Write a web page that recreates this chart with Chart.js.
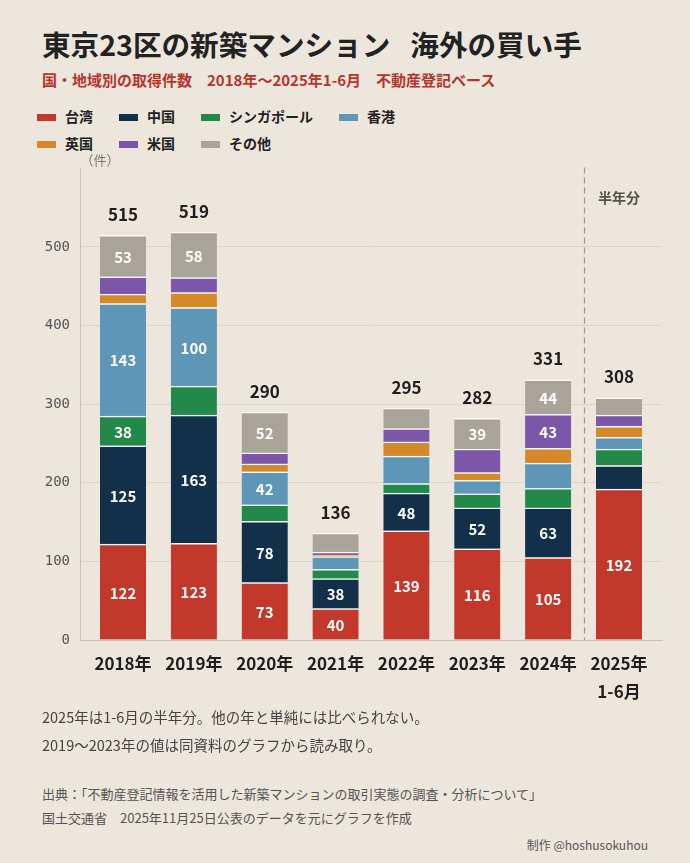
<!DOCTYPE html>
<html lang="ja">
<head>
<meta charset="utf-8">
<title>東京23区の新築マンション 海外の買い手</title>
<script src="https://cdn.jsdelivr.net/npm/chart.js@4.4.1/dist/chart.umd.min.js"></script>
<style>
    body { margin: 0; background: #ece6dc; }
    #page {
        position: relative; width: 690px; height: 863px; overflow: hidden;
        font-family: "Noto Sans CJK JP", sans-serif; color: #222;
    }
    .txt { position: absolute; margin: 0; white-space: nowrap; }
    #title { left: 42px; top: 26px; font-size: 28.6px; line-height: 36px; font-weight: 700; }
    #title .gap { display: inline-block; width: 20px; }
    #subtitle { left: 42px; top: 70px; font-size: 15px; line-height: 20px; font-weight: 700; color: #b5342b; }
    #legend {
        position: absolute; left: 37px; top: 102px;
        display: grid; grid-template-columns: auto auto auto auto; column-gap: 26px;
        grid-auto-rows: 27px; align-items: center;
        font-size: 14px; font-weight: 700;
    }
    #legend span.sw { display: inline-block; width: 19px; height: 7px; margin-right: 9px; vertical-align: middle; }
    #chartBox { position: absolute; left: 0; top: 150px; width: 690px; height: 560px; }
    #notes { left: 42px; top: 703px; font-size: 14.5px; line-height: 28px; color: #444; }
    #source { left: 42px; top: 782px; font-size: 13px; line-height: 24px; color: #555; }
    #credit { right: 42px; top: 835px; font-size: 12px; line-height: 20px; color: #555; }
</style>
</head>
<body>
<div id="page">
    <h1 class="txt" id="title">東京23区の新築マンション<span class="gap"></span>海外の買い手</h1>
    <div class="txt" id="subtitle">国・地域別の取得件数　2018年〜2025年1-6月　不動産登記ベース</div>
    <div id="legend"></div>
    <div id="chartBox"><canvas id="buyersChart"></canvas></div>
    <div class="txt" id="notes">2025年は1-6月の半年分。他の年と単純には比べられない。<br>2019〜2023年の値は同資料のグラフから読み取り。</div>
    <div class="txt" id="source">出典：「不動産登記情報を活用した新築マンションの取引実態の調査・分析について」<br>国土交通省　2025年11月25日公表のデータを元にグラフを作成</div>
    <div class="txt" id="credit">制作 @hoshusokuhou</div>
</div>
<script>
// Data (件)
const years = ['2018年', '2019年', '2020年', '2021年', '2022年', '2023年', '2024年', '2025年'];
const tickLabels = ['2018年', '2019年', '2020年', '2021年', '2022年', '2023年', '2024年', ['2025年', '1-6月']];
const taiwan    = [122, 123, 73, 40, 139, 116, 105, 192];
const china     = [125, 163, 78, 38, 48, 52, 63, 30];
const singapore = [38, 37, 21, 12, 12, 18, 25, 21];
const hongkong  = [143, 100, 42, 16, 35, 17, 32, 15];
const uk        = [12, 19, 10, 2, 18, 10, 19, 14];
const usa       = [22, 19, 14, 4, 17, 30, 43, 14];
const others    = [53, 58, 52, 24, 26, 39, 44, 22];
const totals    = [515, 519, 290, 136, 295, 282, 331, 308];
const yTicks    = [0, 100, 200, 300, 400, 500];

const series = [
    { label: '台湾', data: taiwan, color: '#c2392c' },
    { label: '中国', data: china, color: '#13304b' },
    { label: 'シンガポール', data: singapore, color: '#23894b' },
    { label: '香港', data: hongkong, color: '#5d96b7' },
    { label: '英国', data: uk, color: '#d5892b' },
    { label: '米国', data: usa, color: '#7b56a9' },
    { label: 'その他', data: others, color: '#a9a499' }
];

const FONT = '"Noto Sans CJK JP", sans-serif';
const MONO = '"DejaVu Sans Mono", monospace';

// Build the html legend (grid so the second row lines up)
const legendBox = document.getElementById('legend');
series.forEach(s => {
    const item = document.createElement('div');
    item.innerHTML = `<span class="sw" style="background:${s.color}"></span>${s.label}`;
    legendBox.appendChild(item);
});

// Labels inside segments, totals, the half-year divider
const barLabels = {
    id: 'barLabels',
    afterDatasetsDraw(chart) {
        const ctx = chart.ctx;
        const area = chart.chartArea;
        const xs = chart.scales.x;
        ctx.save();
        ctx.textAlign = 'center';
        ctx.textBaseline = 'middle';

        // segment values
        ctx.fillStyle = '#ffffff';
        ctx.font = 'bold 15px ' + FONT;
        chart.data.datasets.forEach((ds, di) => {
            chart.getDatasetMeta(di).data.forEach((bar, i) => {
                const v = series[di].data[i];
                if (v >= 38) ctx.fillText(String(v), bar.x, (bar.y + bar.base) / 2 + 1);
            });
        });

        // totals above the stacks
        const topMeta = chart.getDatasetMeta(chart.data.datasets.length - 1);
        ctx.fillStyle = '#1e1e1e';
        ctx.font = 'bold 17px ' + FONT;
        topMeta.data.forEach((bar, i) => {
            ctx.fillText(String(totals[i]), bar.x, bar.y - 21);
        });

        // dashed divider before 2025
        const dx = Math.round(xs.getPixelForValue(6.5)) + 0.5;
        ctx.strokeStyle = '#9a958d';
        ctx.lineWidth = 1.2;
        ctx.setLineDash([6, 4]);
        ctx.beginPath();
        ctx.moveTo(dx, area.top - 1);
        ctx.lineTo(dx, area.bottom);
        ctx.stroke();
        ctx.setLineDash([]);

        ctx.fillStyle = '#555049';
        ctx.font = 'bold 14px ' + FONT;
        ctx.fillText('半年分', xs.getPixelForValue(7), area.top + 29);

        // unit
        ctx.fillStyle = '#777';
        ctx.font = '13px ' + FONT;
        ctx.fillText('（件）', area.left + 20, area.top - 8);
        ctx.restore();
    }
};

const ctx = document.getElementById('buyersChart').getContext('2d');
new Chart(ctx, {
    type: 'bar',
    data: {
        datasets: series.map(s => ({
            label: s.label,
            data: s.data.map((v, i) => ({ x: i, y: v })),
            backgroundColor: s.color,
            borderColor: 'rgba(255, 255, 255, 0.8)',
            borderWidth: { top: 1.5, bottom: 0, left: 0, right: 0 },
            borderSkipped: false,
            barThickness: 46
        }))
    },
    options: {
        responsive: true,
        maintainAspectRatio: false,
        animation: false,
        layout: { padding: { top: 18, right: 28, left: 0, bottom: 0 } },
        plugins: {
            legend: { display: false },
            tooltip: { enabled: false }
        },
        scales: {
            x: {
                type: 'linear',
                stacked: true,
                offset: false,
                min: -0.607,
                max: 7.607,
                afterBuildTicks: scale => { scale.ticks = years.map((_, i) => ({ value: i })); },
                afterFit: scale => { scale.height = 70; },
                grid: { display: false, drawTicks: false },
                border: { display: true, color: '#c8c1b5', width: 1 },
                ticks: {
                    autoSkip: false,
                    maxRotation: 0,
                    padding: 10,
                    color: '#1e1e1e',
                    font: { family: FONT, size: 17, weight: 'bold', lineHeight: '28px' },
                    callback: value => tickLabels[value]
                }
            },
            y: {
                stacked: true,
                min: 0,
                max: 600,
                afterBuildTicks: scale => { scale.ticks = yTicks.map(v => ({ value: v })); },
                afterFit: scale => { scale.width = 80; },
                grid: { color: '#dcd5ca', drawTicks: false },
                border: { display: true, color: '#c8c1b5', width: 1 },
                ticks: {
                    padding: 10,
                    color: '#555',
                    font: { family: MONO, size: 14 }
                }
            }
        }
    },
    plugins: [barLabels]
});
</script>
</body>
</html>
